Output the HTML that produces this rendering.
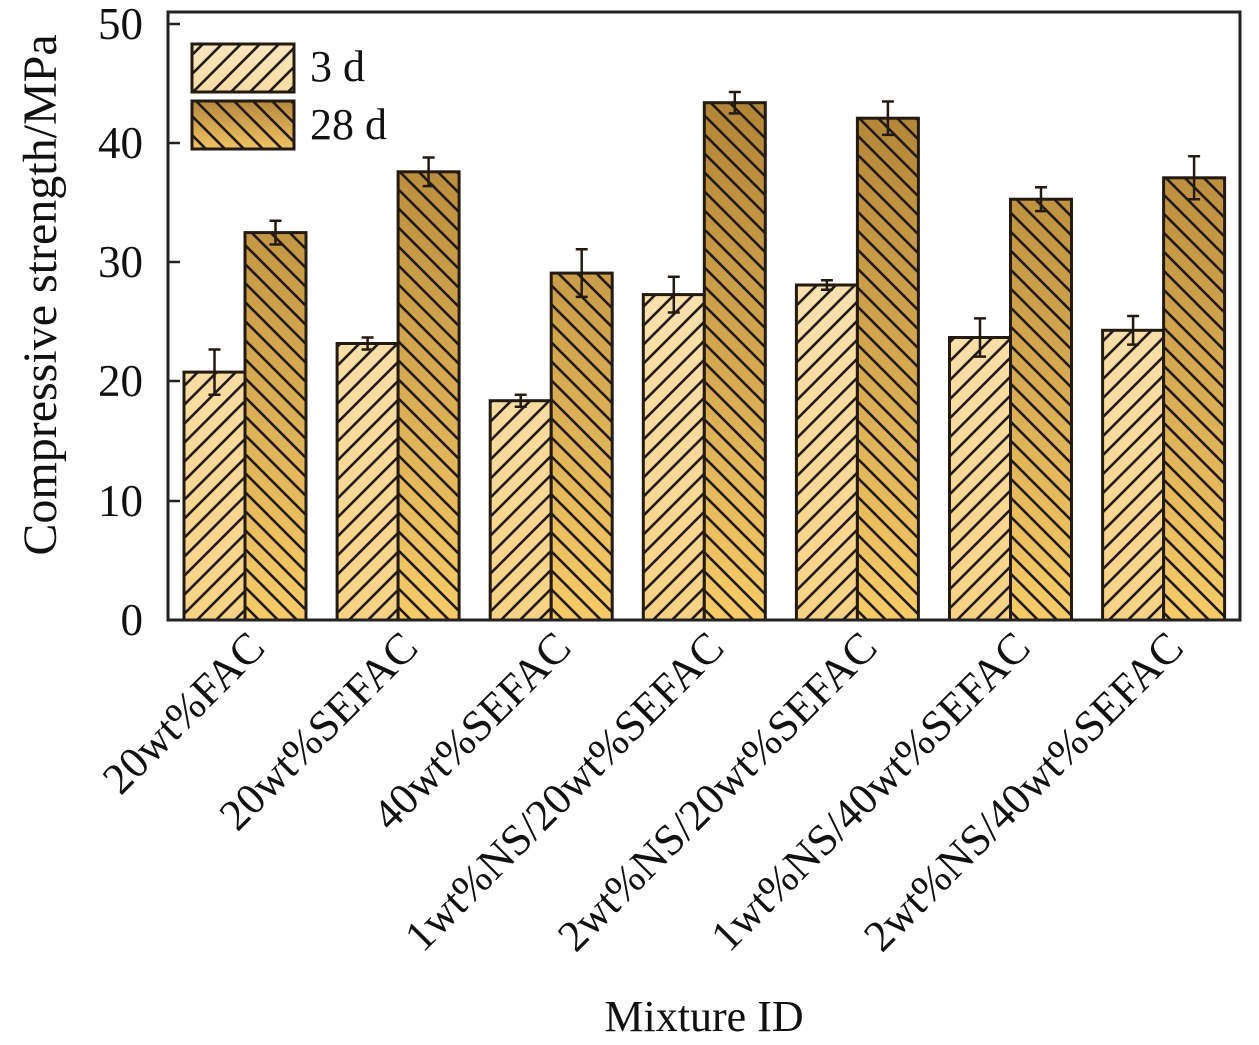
<!DOCTYPE html>
<html><head><meta charset="utf-8"><style>
html,body{margin:0;padding:0;background:#fff;}
svg{display:block;font-family:"Liberation Serif",serif;}
</style></head><body>
<svg width="1259" height="1045" viewBox="0 0 1259 1045">
<defs>
<linearGradient id="g3" gradientUnits="userSpaceOnUse" x1="0" y1="24" x2="0" y2="620">
<stop offset="0" stop-color="#fbecd0"/><stop offset="1" stop-color="#f7d285"/></linearGradient>
<linearGradient id="g28" gradientUnits="userSpaceOnUse" x1="0" y1="24" x2="0" y2="620">
<stop offset="0" stop-color="#a87a30"/><stop offset="1" stop-color="#f6cb68"/></linearGradient>
<pattern id="h3" patternUnits="userSpaceOnUse" width="19" height="19">
<path d="M-5,5 L5,-5 M0,19 L19,0 M14,24 L24,14" stroke="#231a10" stroke-width="2.6"/></pattern>
<pattern id="h28" patternUnits="userSpaceOnUse" width="19" height="19">
<path d="M-5,14 L5,24 M0,0 L19,19 M14,-5 L24,5" stroke="#231a10" stroke-width="2.6"/></pattern>
<linearGradient id="l3" x1="0" y1="0" x2="0" y2="1"><stop offset="0" stop-color="#fae6be"/><stop offset="1" stop-color="#f7dca5"/></linearGradient>
<linearGradient id="l28" x1="0" y1="0" x2="0" y2="1"><stop offset="0" stop-color="#b58840"/><stop offset="1" stop-color="#f0c363"/></linearGradient>
</defs>
<g stroke="#231a10" stroke-width="3">
<g fill="url(#g3)" stroke="none">
<rect x="184" y="372.1" width="61" height="247.9"/><rect x="337.1" y="343.5" width="61" height="276.5"/>
<rect x="490.2" y="400.7" width="61" height="219.3"/><rect x="643.3" y="294.6" width="61" height="325.4"/>
<rect x="796.4" y="285" width="61" height="335"/><rect x="949.5" y="337.5" width="61" height="282.5"/>
<rect x="1102.6" y="330.3" width="61" height="289.7"/>
</g>
<g fill="url(#h3)">
<rect x="184" y="372.1" width="61" height="247.9"/><rect x="337.1" y="343.5" width="61" height="276.5"/>
<rect x="490.2" y="400.7" width="61" height="219.3"/><rect x="643.3" y="294.6" width="61" height="325.4"/>
<rect x="796.4" y="285" width="61" height="335"/><rect x="949.5" y="337.5" width="61" height="282.5"/>
<rect x="1102.6" y="330.3" width="61" height="289.7"/>
</g>
<g fill="url(#g28)" stroke="none">
<rect x="245" y="232.6" width="61" height="387.4"/><rect x="398.1" y="171.8" width="61" height="448.2"/>
<rect x="551.2" y="273.1" width="61" height="346.9"/><rect x="704.3" y="102.7" width="61" height="517.3"/>
<rect x="857.4" y="118.2" width="61" height="501.8"/><rect x="1010.5" y="199.2" width="61" height="420.8"/>
<rect x="1163.6" y="177.8" width="61" height="442.2"/>
</g>
<g fill="url(#h28)">
<rect x="245" y="232.6" width="61" height="387.4"/><rect x="398.1" y="171.8" width="61" height="448.2"/>
<rect x="551.2" y="273.1" width="61" height="346.9"/><rect x="704.3" y="102.7" width="61" height="517.3"/>
<rect x="857.4" y="118.2" width="61" height="501.8"/><rect x="1010.5" y="199.2" width="61" height="420.8"/>
<rect x="1163.6" y="177.8" width="61" height="442.2"/>
</g>
</g>
<g stroke="#231a10" stroke-width="2.5" fill="none">
<path d="M214.5,349.5V394.7M208.5,349.5H220.5M208.5,394.7H220.5"/>
<path d="M367.6,337.5V349.5M361.6,337.5H373.6M361.6,349.5H373.6"/>
<path d="M520.7,394.7V406.7M514.7,394.7H526.7M514.7,406.7H526.7"/>
<path d="M673.8,276.7V312.5M667.8,276.7H679.8M667.8,312.5H679.8"/>
<path d="M826.9,280.2V289.8M820.9,280.2H832.9M820.9,289.8H832.9"/>
<path d="M980,318.4V356.6M974,318.4H986M974,356.6H986"/>
<path d="M1133.1,316V344.6M1127.1,316H1139.1M1127.1,344.6H1139.1"/>
<path d="M275.5,220.7V244.5M269.5,220.7H281.5M269.5,244.5H281.5"/>
<path d="M428.6,157.5V186.1M422.6,157.5H434.6M422.6,186.1H434.6"/>
<path d="M581.7,249.3V296.9M575.7,249.3H587.7M575.7,296.9H587.7"/>
<path d="M734.8,92V113.4M728.8,92H740.8M728.8,113.4H740.8"/>
<path d="M887.9,101.5V134.9M881.9,101.5H893.9M881.9,134.9H893.9"/>
<path d="M1041,187.3V211.1M1035,187.3H1047M1035,211.1H1047"/>
<path d="M1194.1,156.3V199.3M1188.1,156.3H1200.1M1188.1,199.3H1200.1"/>
</g>
<rect x="168" y="12" width="1072" height="608" fill="none" stroke="#222" stroke-width="3"/>
<g stroke="#222" stroke-width="2.5">
<line x1="168" y1="24" x2="180" y2="24"/><line x1="168" y1="143" x2="180" y2="143"/>
<line x1="168" y1="262" x2="180" y2="262"/><line x1="168" y1="381" x2="180" y2="381"/>
<line x1="168" y1="501" x2="180" y2="501"/>
</g>
<g font-size="45" text-anchor="end" fill="#111">
<text x="143" y="39">50</text><text x="143" y="158">40</text><text x="143" y="277">30</text>
<text x="143" y="396">20</text><text x="143" y="516">10</text><text x="143" y="635">0</text>
</g>
<text transform="translate(56,295) rotate(-90)" font-size="48" text-anchor="middle" fill="#111">Compressive strength/MPa</text>
<text x="704" y="1031" font-size="44" text-anchor="middle" fill="#111">Mixture ID</text>
<rect x="192" y="44" width="102" height="48" fill="url(#l3)" stroke="#231a10" stroke-width="3"/>
<rect x="192" y="44" width="102" height="48" fill="url(#h3)"/>
<rect x="192" y="101" width="102" height="48" fill="url(#l28)" stroke="#231a10" stroke-width="3"/>
<rect x="192" y="101" width="102" height="48" fill="url(#h28)"/>
<text x="310" y="81" font-size="44" fill="#111">3 d</text>
<text x="310" y="139" font-size="44" fill="#111">28 d</text>
<g font-size="44" text-anchor="end" fill="#111">
<text transform="translate(267,650) rotate(-45)">20wt%FAC</text>
<text transform="translate(420.1,650) rotate(-45)">20wt%SEFAC</text>
<text transform="translate(573.2,650) rotate(-45)">40wt%SEFAC</text>
<text transform="translate(726.3,650) rotate(-45)">1wt%NS/20wt%SEFAC</text>
<text transform="translate(879.4,650) rotate(-45)">2wt%NS/20wt%SEFAC</text>
<text transform="translate(1032.5,650) rotate(-45)">1wt%NS/40wt%SEFAC</text>
<text transform="translate(1185.6,650) rotate(-45)">2wt%NS/40wt%SEFAC</text>
</g>
</svg>
</body></html>
